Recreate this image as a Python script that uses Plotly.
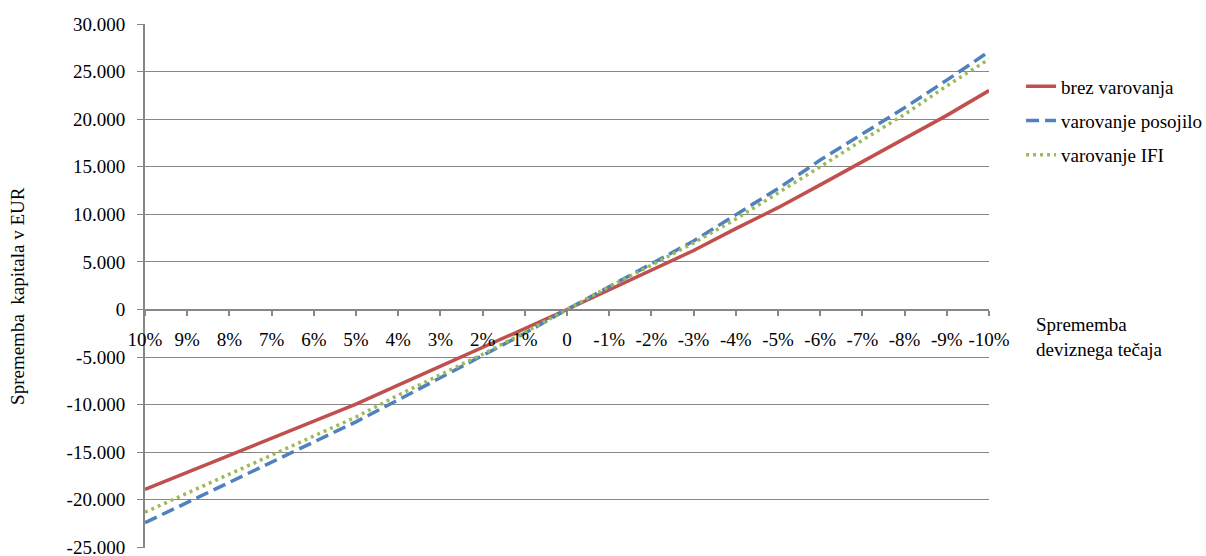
import plotly.graph_objects as go

# Exchange-rate change scenarios (x axis categories)
categories = ["10%", "9%", "8%", "7%", "6%", "5%", "4%", "3%", "2%", "1%", "0",
              "-1%", "-2%", "-3%", "-4%", "-5%", "-6%", "-7%", "-8%", "-9%", "-10%"]

# Change of capital in EUR for each scenario
brez_varovanja = [-18900, -17100, -15300, -13500, -11700, -9950, -7950, -6000, -4000, -2000, 0,
                  2100, 4100, 6200, 8500, 10700, 13100, 15500, 17900, 20400, 23000]
varovanje_posojilo = [-22400, -20300, -18200, -16000, -13900, -11800, -9500, -7200, -4900, -2500, 0,
                      2450, 4800, 7200, 9900, 12700, 15700, 18400, 21200, 24100, 27100]
varovanje_ifi = [-21300, -19300, -17300, -15300, -13300, -11300, -9000, -6900, -4700, -2400, 0,
                 2400, 4650, 7000, 9500, 12200, 15000, 17800, 20500, 23500, 26300]

y_tickvals = [30000, 25000, 20000, 15000, 10000, 5000, 0, -5000, -10000, -15000, -20000, -25000]
y_ticktext = ["30.000", "25.000", "20.000", "15.000", "10.000", "5.000", "0",
              "-5.000", "-10.000", "-15.000", "-20.000", "-25.000"]
y_min, y_max = -25060, 30000

FONT = "Liberation Serif, Times New Roman, serif"
GRID = "#878787"

fig = go.Figure()
fig.add_trace(go.Scatter(x=categories, y=brez_varovanja, mode="lines", name="brez varovanja",
                         legendgroup="a",
                         line=dict(color="#C0504D", width=3.5)))
fig.add_trace(go.Scatter(x=categories, y=varovanje_posojilo, mode="lines", name="varovanje posojilo",
                         legendgroup="b",
                         line=dict(color="#4F81BD", width=3.5, dash="13px,6px")))
fig.add_trace(go.Scatter(x=categories, y=varovanje_ifi, mode="lines", name="varovanje IFI",
                         legendgroup="c",
                         line=dict(color="#9BBB59", width=3.5, dash="3px,4px")))

# x axis crosses the value axis at zero
zero_pos = (0 - y_min) / (y_max - y_min)

fig.update_layout(
    width=1206, height=556,
    margin=dict(l=145, r=217, t=24, b=8, autoexpand=False),
    paper_bgcolor="white", plot_bgcolor="white",
    font=dict(family=FONT, size=19, color="black"),
    showlegend=True,
    legend=dict(x=1.038, xanchor="left", xref="paper", y=0.815, yanchor="middle",
                font=dict(family=FONT, size=19), tracegroupgap=6.5,
                bgcolor="rgba(0,0,0,0)"),
    xaxis=dict(type="category", range=[0, 20], anchor="free", position=zero_pos,
               showgrid=False, showline=True, linecolor=GRID, linewidth=2,
               ticks="outside", ticklen=5, tickcolor=GRID, tickwidth=1.5,
               ticklabelstandoff=8, automargin=False,
               tickfont=dict(family=FONT, size=19)),
    yaxis=dict(range=[y_min, y_max], tickvals=y_tickvals, ticktext=y_ticktext,
               showgrid=True, gridcolor=GRID, gridwidth=1.2, zeroline=False,
               showline=True, linecolor=GRID, linewidth=2,
               ticks="outside", ticklen=6, tickcolor=GRID, tickwidth=1.2,
               ticklabelstandoff=8, ticklabeloverflow="allow", automargin=False,
               tickfont=dict(family=FONT, size=19)),
    annotations=[
        dict(text="Sprememba<br>deviznega tečaja", xref="paper", yref="paper",
             x=1.0, y=zero_pos, xanchor="left", yanchor="top", xshift=45, yshift=-2,
             align="left", showarrow=False, font=dict(family=FONT, size=19)),
        dict(text="Sprememba  kapitala v EUR", xref="paper", yref="paper",
             x=-0.1505, y=0.481, xanchor="center", yanchor="middle", textangle=-90,
             showarrow=False, font=dict(family=FONT, size=19)),
    ],
)

fig.write_html("out.html")
